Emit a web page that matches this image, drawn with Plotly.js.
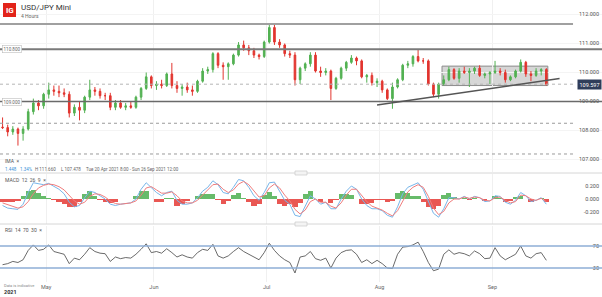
<!DOCTYPE html>
<html>
<head>
<meta charset="utf-8">
<script src="https://cdn.plot.ly/plotly-3.0.1.min.js"></script>
<style>html,body{margin:0;padding:0;background:#fff;}#chart{width:602px;height:297px;}</style>
</head>
<body>
<div id="chart"></div>
<script>
// ---- data (one candle per trading day) ----
const days = [
'2021-04-20','2021-04-21','2021-04-22','2021-04-23','2021-04-26','2021-04-27','2021-04-28','2021-04-29','2021-04-30',
'2021-05-03','2021-05-04','2021-05-05','2021-05-06','2021-05-07','2021-05-10','2021-05-11','2021-05-12','2021-05-13','2021-05-14',
'2021-05-17','2021-05-18','2021-05-19','2021-05-20','2021-05-21','2021-05-24','2021-05-25','2021-05-26','2021-05-27','2021-05-28','2021-05-31',
'2021-06-01','2021-06-02','2021-06-03','2021-06-04','2021-06-07','2021-06-08','2021-06-09','2021-06-10','2021-06-11',
'2021-06-14','2021-06-15','2021-06-16','2021-06-17','2021-06-18','2021-06-21','2021-06-22','2021-06-23','2021-06-24','2021-06-25',
'2021-06-28','2021-06-29','2021-06-30',
'2021-07-01','2021-07-02','2021-07-05','2021-07-06','2021-07-07','2021-07-08','2021-07-09','2021-07-12','2021-07-13','2021-07-14',
'2021-07-15','2021-07-16','2021-07-19','2021-07-20','2021-07-21','2021-07-22','2021-07-23','2021-07-26','2021-07-27','2021-07-28',
'2021-07-29','2021-07-30',
'2021-08-02','2021-08-03','2021-08-04','2021-08-05','2021-08-06','2021-08-09','2021-08-10','2021-08-11','2021-08-12','2021-08-13',
'2021-08-16','2021-08-17','2021-08-18','2021-08-19','2021-08-20','2021-08-23','2021-08-24','2021-08-25','2021-08-26','2021-08-27',
'2021-08-30','2021-08-31',
'2021-09-01','2021-09-02','2021-09-03','2021-09-06','2021-09-07','2021-09-08','2021-09-09','2021-09-10','2021-09-13','2021-09-14','2021-09-15'];

const openP = [108.12,108.10,107.95,108.05,107.90,108.05,108.65,108.95,108.85,109.25,
109.40,109.35,109.30,109.25,108.60,108.80,108.70,109.15,109.40,109.35,
109.20,109.20,108.80,108.95,108.80,108.85,108.80,109.15,109.45,109.85,
109.55,109.60,109.55,109.95,109.55,109.45,109.50,109.40,109.35,109.70,
110.05,110.10,110.65,110.25,110.20,110.30,110.60,110.95,110.85,110.75,
110.60,110.55,111.05,111.55,111.05,110.95,110.65,110.60,109.75,110.15,
110.30,110.60,110.05,110.00,110.05,109.45,109.80,110.15,110.35,110.50,
110.40,109.85,109.90,109.65,109.70,109.40,109.10,109.50,109.75,110.25,
110.30,110.55,110.40,110.40,109.60,109.25,109.60,109.75,110.10,109.80,
110.05,110.00,110.05,110.15,109.90,109.95,110.00,110.05,110.00,109.75,
109.85,110.05,110.35,109.95,109.90,110.05,110.10];
const highP = [108.45,108.20,108.15,108.10,108.15,108.75,109.10,109.05,109.30,109.65,
109.55,109.55,109.45,109.35,108.90,109.00,109.20,109.75,109.50,109.45,
109.30,109.30,109.05,109.05,108.95,109.00,109.20,109.50,110.00,109.90,
109.70,109.75,110.00,110.33,109.70,109.60,109.65,109.55,109.75,110.15,
110.20,110.70,110.70,110.35,110.35,110.65,111.05,111.10,110.95,110.85,
110.65,111.10,111.66,111.65,111.15,111.00,110.75,110.70,110.20,110.35,
110.70,110.70,110.20,110.15,110.10,109.85,110.20,110.40,110.60,110.55,
110.45,109.95,110.00,109.80,109.75,109.45,109.65,109.80,110.30,110.40,
110.60,110.80,110.50,110.45,109.65,109.65,109.90,110.20,110.15,110.15,
110.20,110.15,110.20,110.25,110.00,110.05,110.40,110.15,110.10,109.90,
110.10,110.45,110.40,110.05,110.15,110.15,110.15];
const lowP = [108.05,107.80,107.85,107.48,107.65,108.00,108.55,108.70,108.75,109.10,
109.20,109.15,109.15,108.45,108.50,108.35,108.60,109.05,109.20,109.10,
109.05,108.70,108.70,108.75,108.70,108.75,108.75,109.05,109.40,109.45,
109.40,109.45,109.50,109.45,109.30,109.20,109.30,109.20,109.30,109.65,
109.95,110.00,110.15,109.75,109.75,110.25,110.55,110.75,110.60,110.50,
110.45,110.50,111.00,110.95,110.85,110.55,110.50,109.55,109.60,110.05,
110.20,110.00,109.85,109.90,109.05,109.40,109.75,110.05,110.30,110.25,
109.80,109.65,109.55,109.50,109.30,109.05,108.75,109.45,109.70,110.15,
110.20,110.35,110.30,109.55,109.15,109.10,109.55,109.70,109.75,109.65,
109.95,109.50,109.95,109.85,109.80,109.60,109.95,109.90,109.65,109.70,
109.80,110.00,109.85,109.70,109.85,109.90,109.55];
const closeP = [108.10,107.95,108.05,107.90,108.05,108.65,108.95,108.85,109.25,109.40,
109.35,109.30,109.25,108.60,108.80,108.70,109.15,109.40,109.35,109.20,
109.20,108.80,108.95,108.80,108.85,108.80,109.15,109.45,109.85,109.55,
109.60,109.55,109.95,109.55,109.45,109.50,109.40,109.35,109.70,110.05,
110.10,110.65,110.25,110.20,110.30,110.60,110.95,110.85,110.75,110.60,
110.55,111.05,111.55,111.05,110.95,110.65,110.60,109.75,110.15,110.30,
110.60,110.05,110.00,110.05,109.45,109.80,110.15,110.35,110.50,110.40,
109.85,109.90,109.65,109.70,109.40,109.10,109.50,109.75,110.25,110.30,
110.55,110.40,110.40,109.60,109.25,109.60,109.75,110.10,109.80,110.05,
110.00,110.05,110.15,109.90,109.95,110.00,110.05,110.00,109.75,109.85,
110.05,110.35,109.95,109.90,110.05,110.10,109.597];

const macdLine = [-0.10,-0.14,-0.15,-0.16,-0.08,0.10,0.25,0.24,0.22,0.24,
0.20,0.15,0.08,-0.05,-0.12,-0.10,0.02,0.12,0.10,0.05,
0.00,-0.08,-0.10,-0.08,-0.07,-0.06,0.00,0.15,0.25,0.18,
0.10,0.05,0.10,0.12,-0.02,-0.08,-0.08,-0.06,0.02,0.12,
0.18,0.28,0.22,0.10,0.08,0.18,0.30,0.28,0.18,0.05,
-0.02,0.10,0.25,0.26,0.12,-0.02,-0.08,-0.25,-0.27,-0.12,
0.05,0.00,-0.08,-0.05,-0.15,-0.15,0.00,0.12,0.20,0.15,
0.00,-0.10,-0.15,-0.15,-0.18,-0.25,-0.28,-0.12,0.08,0.18,
0.22,0.25,0.15,-0.05,-0.22,-0.28,-0.15,0.02,0.02,0.00,
0.04,0.00,0.04,0.02,-0.04,-0.03,0.05,0.04,-0.05,-0.08,
-0.02,0.10,0.05,-0.04,-0.02,0.02,-0.08];
const signalLine = [-0.06,-0.09,-0.12,-0.14,-0.12,-0.04,0.08,0.17,0.21,0.23,
0.22,0.19,0.14,0.06,-0.03,-0.08,-0.05,0.04,0.08,0.07,
0.03,-0.03,-0.07,-0.08,-0.07,-0.06,-0.03,0.06,0.17,0.19,
0.14,0.09,0.09,0.11,0.05,-0.03,-0.06,-0.06,-0.02,0.06,
0.13,0.22,0.23,0.15,0.10,0.14,0.23,0.27,0.22,0.12,
0.03,0.05,0.17,0.23,0.17,0.06,-0.03,-0.16,-0.23,-0.17,
-0.04,0.00,-0.05,-0.05,-0.11,-0.14,-0.06,0.06,0.15,0.15,
0.06,-0.04,-0.11,-0.14,-0.17,-0.22,-0.26,-0.18,-0.03,0.11,
0.18,0.22,0.18,0.04,-0.14,-0.24,-0.19,-0.06,0.00,0.00,
0.03,0.01,0.03,0.02,-0.02,-0.03,0.02,0.03,-0.02,-0.06,
-0.04,0.06,0.05,0.00,-0.02,0.01,-0.04];
const macdHist = [-0.04,-0.05,-0.04,-0.03,0.05,0.12,0.14,0.10,0.04,0.02,
-0.02,-0.05,-0.08,-0.12,-0.12,-0.04,0.08,0.12,0.04,-0.02,
-0.04,-0.06,-0.04,0.00,0.00,0.00,0.04,0.12,0.12,0.00,
-0.05,-0.05,0.02,0.02,-0.10,-0.08,-0.03,0.00,0.05,0.08,
0.07,0.08,-0.02,-0.07,-0.03,0.06,0.09,0.02,-0.05,-0.10,
-0.07,0.06,0.11,0.04,-0.07,-0.10,-0.07,-0.12,-0.06,0.07,
0.12,0.00,-0.04,0.00,-0.06,-0.02,0.08,0.08,0.06,0.00,
-0.08,-0.08,-0.06,-0.02,-0.02,-0.04,-0.03,0.09,0.12,0.10,
0.05,0.04,-0.04,-0.12,-0.15,-0.10,0.06,0.10,0.03,0.00,
0.02,-0.02,0.02,0.00,-0.03,0.00,0.04,0.01,-0.04,-0.03,
0.03,0.05,0.00,-0.04,0.00,0.02,-0.05];

const rsi = [36,38,42,40,45,62,72,62,64,72,
60,58,55,38,48,45,55,67,60,57,
56,42,50,47,49,48,55,64,74,58,
60,57,65,58,50,54,50,48,58,64,
62,73,52,48,52,60,67,60,55,50,
45,58,75,62,52,45,40,21,50,52,
60,47,44,48,30,48,58,62,63,55,
40,45,38,44,38,30,29,55,68,69,
72,77,60,40,25,28,55,63,55,58,
56,52,61,56,47,48,67,52,45,50,
55,70,52,48,56,58,44];

const priceTicks = [107,108,109,110,111,112];
const macdTicks = [0.2,0,-0.2];
const rsiLevels = [70,30];
const monthTicks = ['2021-05-03','2021-06-01','2021-07-01','2021-08-02','2021-09-01'];
const monthLabels = ['May','Jun','Jul','Aug','Sep'];

// drawn levels on the price chart
const resistanceTop = 111.672;
const level1 = 110.8;
const level2 = 109.0;
const lastPrice = 109.597;
const dottedLevels = [108.25, 107.19];
const boxRange = {x0:'2021-08-18 04:00', x1:'2021-09-15 19:00', y0:109.55, y1:110.22};
const trend = {x0:'2021-07-30 12:00', y0:108.88, x1:'2021-09-20 02:00', y1:109.79};

// ---- build ----
const xs = days.map(d => d + ' 12:00');
const xStart = '2021-04-20 00:00';
const xEnd = '2021-09-30 08:24';
const drawEnd = '2021-09-22 16:48';

const traces = [
  {type:'candlestick', x:xs, open:openP, high:highP, low:lowP, close:closeP,
   xaxis:'x', yaxis:'y', whiskerwidth:0,
   increasing:{line:{color:'#52b152', width:1}, fillcolor:'#52b152'},
   decreasing:{line:{color:'#e2352f', width:1}, fillcolor:'#e2352f'},
   hoverinfo:'skip'},
  {type:'bar', x:xs, y:macdHist, xaxis:'x', yaxis:'y2',
   marker:{color:macdHist.map(v => v >= 0 ? 'rgba(76,175,80,0.85)' : 'rgba(229,57,53,0.85)'), line:{width:0}}},
  {type:'scatter', mode:'lines', x:xs, y:macdLine, xaxis:'x', yaxis:'y2', line:{color:'#78b6ea', width:1}},
  {type:'scatter', mode:'lines', x:xs, y:signalLine, xaxis:'x', yaxis:'y2', line:{color:'#f07d7d', width:1}},
  {type:'scatter', mode:'lines', x:xs, y:rsi, xaxis:'x', yaxis:'y3', line:{color:'#444444', width:0.8}}
];

const P = px => px/602;
const Q = py => 1 - py/297;

const shapes = [
  {type:'line', xref:'x', yref:'y', x0:xStart, x1:drawEnd, y0:resistanceTop, y1:resistanceTop, line:{color:'#a0a0a0', width:2}},
  {type:'line', xref:'x', yref:'y', x0:xStart, x1:xEnd, y0:level1, y1:level1, line:{color:'#7a7a7a', width:2}},
  {type:'line', xref:'x', yref:'y', x0:xStart, x1:xEnd, y0:level2, y1:level2, line:{color:'#6a6a6a', width:1.5}},
  {type:'line', xref:'x', yref:'y', x0:xStart, x1:drawEnd, y0:lastPrice, y1:lastPrice, line:{color:'#b5b5b5', width:1, dash:'dot'}},
  {type:'rect', xref:'x', yref:'y', x0:boxRange.x0, x1:boxRange.x1, y0:boxRange.y0, y1:boxRange.y1,
   fillcolor:'rgba(120,120,120,0.3)', line:{color:'#8c8c8c', width:1}, layer:'below'},
  {type:'line', xref:'x', yref:'y', x0:trend.x0, y0:trend.y0, x1:trend.x1, y1:trend.y1, line:{color:'#555', width:1.5}},
  // panel separators + handles
  {type:'line', xref:'paper', yref:'paper', x0:0, x1:1, y0:Q(173), y1:Q(173), line:{color:'#d6d6d6', width:1}},
  {type:'line', xref:'paper', yref:'paper', x0:0, x1:1, y0:Q(224), y1:Q(224), line:{color:'#d6d6d6', width:1}},
  {type:'rect', xref:'paper', yref:'paper', x0:P(295), x1:P(307), y0:Q(175), y1:Q(171), fillcolor:'#f4f4f4', line:{color:'#c8c8c8', width:0.7}},
  {type:'rect', xref:'paper', yref:'paper', x0:P(295), x1:P(307), y0:Q(226), y1:Q(222), fillcolor:'#f4f4f4', line:{color:'#c8c8c8', width:0.7}},
  // IG logo
  {type:'rect', xref:'paper', yref:'paper', x0:P(3), x1:P(16), y0:Q(17), y1:Q(3), fillcolor:'#e2231a', line:{width:0}}
];
dottedLevels.forEach(v => shapes.push({type:'line', xref:'x', yref:'y', x0:xStart, x1:drawEnd, y0:v, y1:v, line:{color:'#9a9a9a', width:1, dash:'dot'}}));
rsiLevels.forEach(v => shapes.push({type:'line', xref:'x', yref:'y3', x0:xStart, x1:xEnd, y0:v, y1:v, line:{color:'#8eaed6', width:1.5}}));

const F = 'Roboto, Arial, sans-serif';
const ann = (x, y, text, size, color, extra) => Object.assign({xref:'paper', yref:'paper', x:P(x), y:Q(y), text:text, showarrow:false,
  xanchor:'left', yanchor:'middle', font:{family:F, size:size, color:color}}, extra || {});

const annotations = [
  ann(9.5, 10.5, '<b>IG</b>', 8, '#ffffff', {xanchor:'center'}),
  ann(19, 7, 'USD/JPY Mini', 8, '#333333'),
  ann(19, 16, '4 Hours', 5, '#666666'),
  ann(3, 161, 'IMA  ×', 5, '#555555'),
  ann(3, 169, '1.448', 4.5, '#3a8fd8'),
  ann(18, 169, '1.34%', 4.5, '#3a8fd8'),
  ann(33, 169, 'H 111.660', 4.5, '#666666'),
  ann(59, 169, 'L 107.478', 4.5, '#666666'),
  ann(84, 169, 'Tue 20 Apr 2021 8:00 - Sun 26 Sep 2021 12:00', 4.5, '#666666'),
  ann(3, 180, 'MACD  12  26  9  ×', 5, '#555555'),
  ann(3, 230, 'RSI  14  70  30  ×', 5, '#555555'),
  ann(2, 285, 'Data is indicative', 4, '#888888'),
  ann(2, 292, '<b>2021</b>', 5.5, '#333333'),
  {xref:'paper', yref:'y', x:1, y:lastPrice, xanchor:'right', yanchor:'middle', showarrow:false,
   text:lastPrice.toFixed(3), bgcolor:'#2f3d5a', borderpad:1.5, font:{family:F, size:5.5, color:'#ffffff'}},
  {xref:'paper', yref:'y', x:P(2), y:level1, xanchor:'left', yanchor:'middle', showarrow:false,
   text:level1.toFixed(3), bgcolor:'#ffffff', bordercolor:'#bdbdbd', borderwidth:0.6, borderpad:1, font:{family:F, size:4.5, color:'#666'}},
  {xref:'paper', yref:'y', x:P(2), y:level2, xanchor:'left', yanchor:'middle', showarrow:false,
   text:level2.toFixed(3), bgcolor:'#ffffff', bordercolor:'#bdbdbd', borderwidth:0.6, borderpad:1, font:{family:F, size:4.5, color:'#666'}}
];

const layout = {
  width:602, height:297,
  margin:{l:0, r:0, t:0, b:0},
  paper_bgcolor:'#ffffff', plot_bgcolor:'#ffffff',
  showlegend:false, bargap:0, boxgap:0.55,
  font:{family:F, size:6, color:'#555'},
  xaxis:{type:'date', range:[xStart, xEnd], rangebreaks:[{bounds:['sat','mon']}],
    rangeslider:{visible:false}, tickvals:monthTicks, ticktext:monthLabels,
    showgrid:true, gridcolor:'#f0f0f0', gridwidth:1, ticks:'', showline:false, zeroline:false,
    tickfont:{family:F, size:5.5, color:'#666'}, anchor:'y3'},
  yaxis:{domain:[Q(172), 1], range:[106.569, 112.5], side:'right', ticklabelposition:'inside', anchor:'x',
    tickvals:priceTicks, ticktext:priceTicks.map(v => v.toFixed(3)), showgrid:true, gridcolor:'#f4f4f4',
    zeroline:false, showline:false, ticks:'', tickfont:{family:F, size:5.5, color:'#555'}},
  yaxis2:{domain:[Q(224), Q(174)], range:[-0.3846, 0.3846], side:'right', ticklabelposition:'inside', anchor:'x',
    tickvals:macdTicks, ticktext:macdTicks.map(v => v.toFixed(3)), showgrid:false, zeroline:false, showline:false, ticks:'',
    tickfont:{family:F, size:5.5, color:'#555'}},
  yaxis3:{domain:[Q(282), Q(226)], range:[4.55, 106.4], side:'right', ticklabelposition:'inside', anchor:'x',
    tickvals:rsiLevels, ticktext:rsiLevels.map(String), showgrid:false, zeroline:false, showline:false, ticks:'',
    tickfont:{family:F, size:5.5, color:'#555'}},
  shapes:shapes,
  annotations:annotations
};

Plotly.newPlot('chart', traces, layout, {staticPlot:true, displayModeBar:false});
</script>
</body>
</html>
